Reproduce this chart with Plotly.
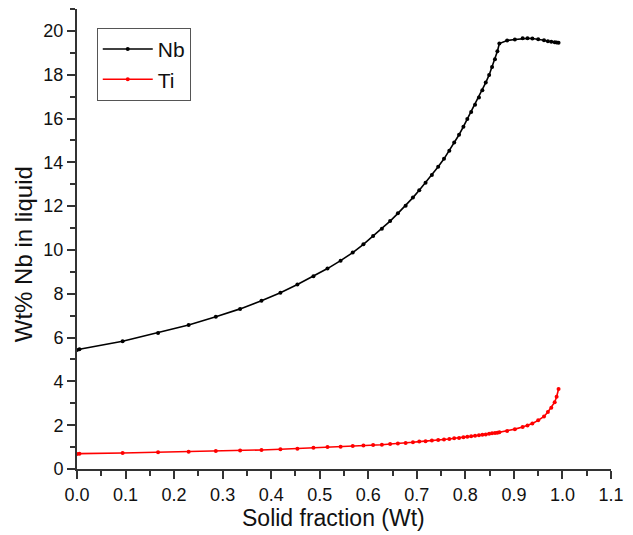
import plotly.graph_objects as go

# Solid fraction sampling (shared by both solutes)
solid_fraction = [0.000, 0.005, 0.094, 0.167, 0.230, 0.286, 0.336, 0.380, 0.419, 0.454,
                  0.487, 0.516, 0.543, 0.568, 0.590, 0.610, 0.628, 0.645, 0.661, 0.677,
                  0.692, 0.705, 0.718, 0.731, 0.744, 0.756, 0.767, 0.777, 0.787, 0.796,
                  0.804, 0.812, 0.820, 0.828, 0.835, 0.842, 0.849, 0.855, 0.861, 0.866,
                  0.870, 0.886, 0.902, 0.918, 0.928, 0.938, 0.950, 0.962, 0.970, 0.977,
                  0.984, 0.988, 0.992]

# Wt% Nb in the remaining liquid
nb_liquid = [5.43, 5.47, 5.83, 6.21, 6.57, 6.95, 7.31, 7.68, 8.05, 8.42,
             8.80, 9.15, 9.51, 9.88, 10.26, 10.64, 10.97, 11.32, 11.67, 12.02,
             12.39, 12.73, 13.07, 13.42, 13.80, 14.16, 14.53, 14.90, 15.26, 15.63,
             15.98, 16.30, 16.63, 16.96, 17.29, 17.64, 17.99, 18.35, 18.71, 19.07,
             19.42, 19.56, 19.61, 19.66, 19.66, 19.65, 19.62, 19.57, 19.53, 19.51,
             19.48, 19.47, 19.46]

# Wt% Ti in the remaining liquid
ti_liquid = [0.68, 0.70, 0.73, 0.76, 0.79, 0.82, 0.85, 0.87, 0.90, 0.93,
             0.97, 1.00, 1.02, 1.05, 1.07, 1.09, 1.11, 1.14, 1.16, 1.19,
             1.22, 1.25, 1.27, 1.30, 1.32, 1.35, 1.37, 1.40, 1.42, 1.45,
             1.47, 1.49, 1.52, 1.54, 1.56, 1.58, 1.61, 1.63, 1.64, 1.66,
             1.68, 1.74, 1.82, 1.92, 1.99, 2.08, 2.22, 2.40, 2.60, 2.80,
             3.05, 3.30, 3.65]

x_ticks = [round(0.1 * i, 1) for i in range(12)]
x_tick_text = [f"{v:.1f}" for v in x_ticks]
y_ticks = list(range(0, 21, 2))

FONT = "Liberation Sans, Arial, sans-serif"
TEXT = "#111111"

fig = go.Figure()
fig.add_trace(go.Scatter(
    x=solid_fraction, y=nb_liquid, name="Nb", mode="lines+markers",
    line=dict(color="black", width=1.6),
    marker=dict(color="black", size=4),
))
fig.add_trace(go.Scatter(
    x=solid_fraction, y=ti_liquid, name="Ti", mode="lines+markers",
    line=dict(color="#ff0000", width=1.6),
    marker=dict(color="#ff0000", size=4),
))

axis_common = dict(
    showline=True, linecolor="#333333", linewidth=2,
    ticks="outside", ticklen=8, tickwidth=1.5, tickcolor="#333333",
    showgrid=False, zeroline=False, mirror=False,
    tickfont=dict(family=FONT, size=18, color=TEXT),
)

fig.update_layout(
    width=633, height=535,
    margin=dict(l=77, r=13, t=9, b=66),
    paper_bgcolor="white", plot_bgcolor="white",
    font=dict(family=FONT, color=TEXT),
    showlegend=True,
    legend=dict(
        x=0.037, y=0.959, xanchor="left", yanchor="top",
        bordercolor="#555555", borderwidth=1, bgcolor="white",
        font=dict(family=FONT, size=21, color=TEXT),
        itemwidth=50, tracegroupgap=0,
    ),
    xaxis=dict(
        range=[0, 1.1], tickvals=x_ticks, ticktext=x_tick_text,
        minor=dict(ticks="outside", ticklen=5, dtick=0.05, tickcolor="#333333", tickwidth=1.5),
        **axis_common,
    ),
    yaxis=dict(
        range=[0, 21], tickvals=y_ticks,
        minor=dict(ticks="outside", ticklen=5, dtick=1, tickcolor="#333333", tickwidth=1.5),
        **axis_common,
    ),
    annotations=[
        dict(text="Solid fraction (Wt)", xref="paper", yref="paper",
             x=0.48, y=-0.1065, xanchor="center", yanchor="middle", showarrow=False,
             font=dict(family=FONT, size=23, color=TEXT)),
        dict(text="Wt% Nb in liquid", xref="paper", yref="paper", textangle=-90,
             x=-0.101, y=0.467, xanchor="center", yanchor="middle", showarrow=False,
             font=dict(family=FONT, size=24, color=TEXT)),
    ],
)

fig.write_html("out.html")
